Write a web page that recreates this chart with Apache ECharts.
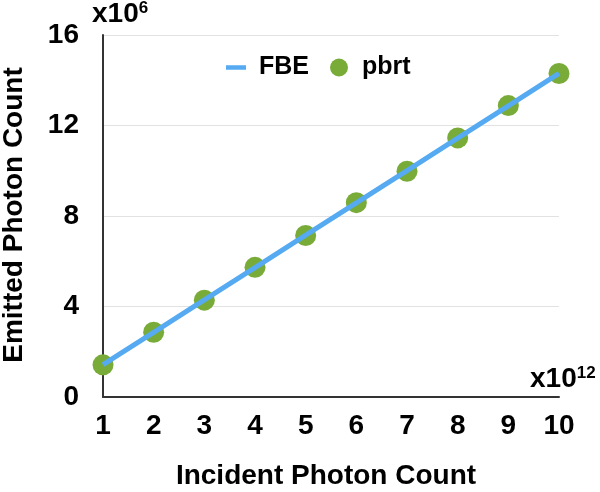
<!DOCTYPE html>
<html>
<head>
<meta charset="utf-8">
<script src="https://cdn.jsdelivr.net/npm/echarts@6/dist/echarts.min.js"></script>
<style>html,body{margin:0;padding:0;background:#fff}#c{width:600px;height:492px}</style>
</head>
<body>
<div id="c"></div>
<script>
const incident = [1, 2, 3, 4, 5, 6, 7, 8, 9, 10];
const fbe = [1.43, 2.86, 4.29, 5.72, 7.15, 8.58, 10.01, 11.44, 12.87, 14.30];
const pbrt = [1.42, 2.86, 4.28, 5.73, 7.14, 8.59, 9.98, 11.45, 12.88, 14.30];
const yTicks = [0, 4, 8, 12, 16];
const xTicks = [1, 2, 3, 4, 5, 6, 7, 8, 9, 10];

const FONT = '"Liberation Sans", Arial, Helvetica, sans-serif';
const chart = echarts.init(document.getElementById('c'), null, {renderer: 'canvas'});
chart.setOption({
  animation: false,
  backgroundColor: '#fff',
  textStyle: {fontFamily: FONT},
  grid: {left: 103, right: 41, top: 35, bottom: 95, containLabel: false},
  legend: {
    left: 221, top: 50,
    itemWidth: 20, itemHeight: 18, itemGap: 21,
    symbolKeepAspect: true,
    textStyle: {fontFamily: FONT, fontWeight: 'bold', fontSize: 25, color: '#000', padding: [0, 0, 0, 8]},
    data: [
      {name: 'FBE', icon: 'path://M0,0H20V4.5H0Z'},
      {name: 'pbrt', icon: 'circle'}
    ]
  },
  xAxis: {
    type: 'value', min: xTicks[0], max: xTicks[xTicks.length - 1], interval: 1,
    axisLine: {show: true, lineStyle: {color: '#333', width: 2}},
    axisTick: {show: false},
    splitLine: {show: false},
    axisLabel: {margin: 15, fontFamily: FONT, fontWeight: 'bold', fontSize: 28, color: '#000'}
  },
  yAxis: {
    type: 'value', min: yTicks[0], max: yTicks[yTicks.length - 1], interval: 4,
    axisLine: {show: true, lineStyle: {color: '#333', width: 2}},
    axisTick: {show: false},
    splitLine: {show: true, lineStyle: {color: '#e2e2e2', width: 1}},
    axisLabel: {margin: 24, fontFamily: FONT, fontWeight: 'bold', fontSize: 28, color: '#000'}
  },
  series: [
    {
      name: 'FBE', type: 'line', symbol: 'none', z: 3,
      data: incident.map((x, i) => [x, fbe[i]]),
      lineStyle: {color: '#55aaf2', width: 5},
      itemStyle: {color: '#55aaf2'}
    },
    {
      name: 'pbrt', type: 'scatter', symbol: 'circle', symbolSize: 21, z: 2,
      data: incident.map((x, i) => [x, pbrt[i]]),
      itemStyle: {color: '#78ab38', opacity: 1}
    }
  ],
  graphic: [
    {
      type: 'text', left: 92, top: 0,
      style: {
        text: '{a|x10}{b|6}',
        rich: {
          a: {fontFamily: FONT, fontWeight: 'bold', fontSize: 28, fill: '#000', verticalAlign: 'bottom'},
          b: {fontFamily: FONT, fontWeight: 'bold', fontSize: 17, fill: '#000', verticalAlign: 'top'}
        }
      }
    },
    {
      type: 'text', left: 530, top: 365,
      style: {
        text: '{a|x10}{b|12}',
        rich: {
          a: {fontFamily: FONT, fontWeight: 'bold', fontSize: 28, fill: '#000', verticalAlign: 'bottom'},
          b: {fontFamily: FONT, fontWeight: 'bold', fontSize: 17, fill: '#000', verticalAlign: 'top'}
        }
      }
    },
    {
      type: 'text', x: 326, y: 476,
      style: {
        text: 'Incident Photon Count', align: 'center', verticalAlign: 'middle',
        fontFamily: FONT, fontWeight: 'bold', fontSize: 28, fill: '#000'
      }
    },
    {
      type: 'text', x: 14, y: 215, rotation: Math.PI / 2,
      style: {
        text: 'Emitted Photon Count', align: 'center', verticalAlign: 'middle',
        fontFamily: FONT, fontWeight: 'bold', fontSize: 28, fill: '#000'
      }
    }
  ]
});
</script>
</body>
</html>
